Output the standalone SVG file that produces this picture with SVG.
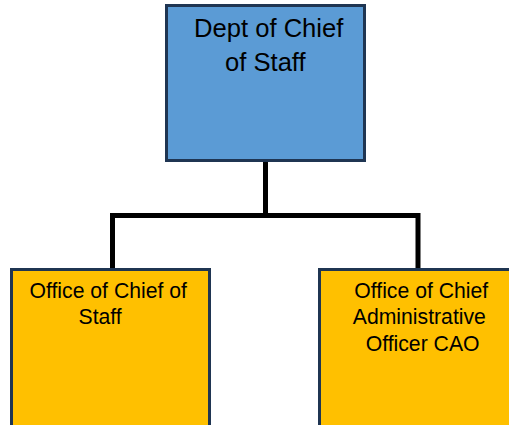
<svg xmlns="http://www.w3.org/2000/svg" width="509" height="425" viewBox="0 0 509 425">
<style>
.box{stroke:#1F3552;stroke-width:3}
.top{fill:#5B9BD5}
.sub{fill:#FFC000}
.t{font-family:"Liberation Sans",Arial,sans-serif;fill:#000}
.t1{font-size:25.6px}
.t2{font-size:21.2px}
.conn{fill:none;stroke:#000;stroke-width:5}
</style>
<rect width="509" height="425" fill="#fff"/>
<g id="connectors">
<path class="conn" d="M265.5 162 V215.5 M112.5 270 V215.5 H418 V270"/>
</g>
<g id="node-dept">
<rect class="box top" x="166.5" y="5.5" width="198" height="155"/>
<text class="t t1" x="194" y="37.3">Dept of Chief</text>
<text class="t t1" x="225" y="70.7">of Staff</text>
</g>
<g id="node-office-cos">
<rect class="box sub" x="11.5" y="269.5" width="198" height="160"/>
<text class="t t2" x="29.5" y="298">Office of Chief of</text>
<text class="t t2" x="78.5" y="324">Staff</text>
</g>
<g id="node-office-cao">
<rect class="box sub" x="319.5" y="269.5" width="198" height="160"/>
<text class="t t2" x="354.3" y="297.5">Office of Chief</text>
<text class="t t2" x="352.8" y="324">Administrative</text>
<text class="t t2" x="365.7" y="350.5">Officer CAO</text>
</g>
</svg>
